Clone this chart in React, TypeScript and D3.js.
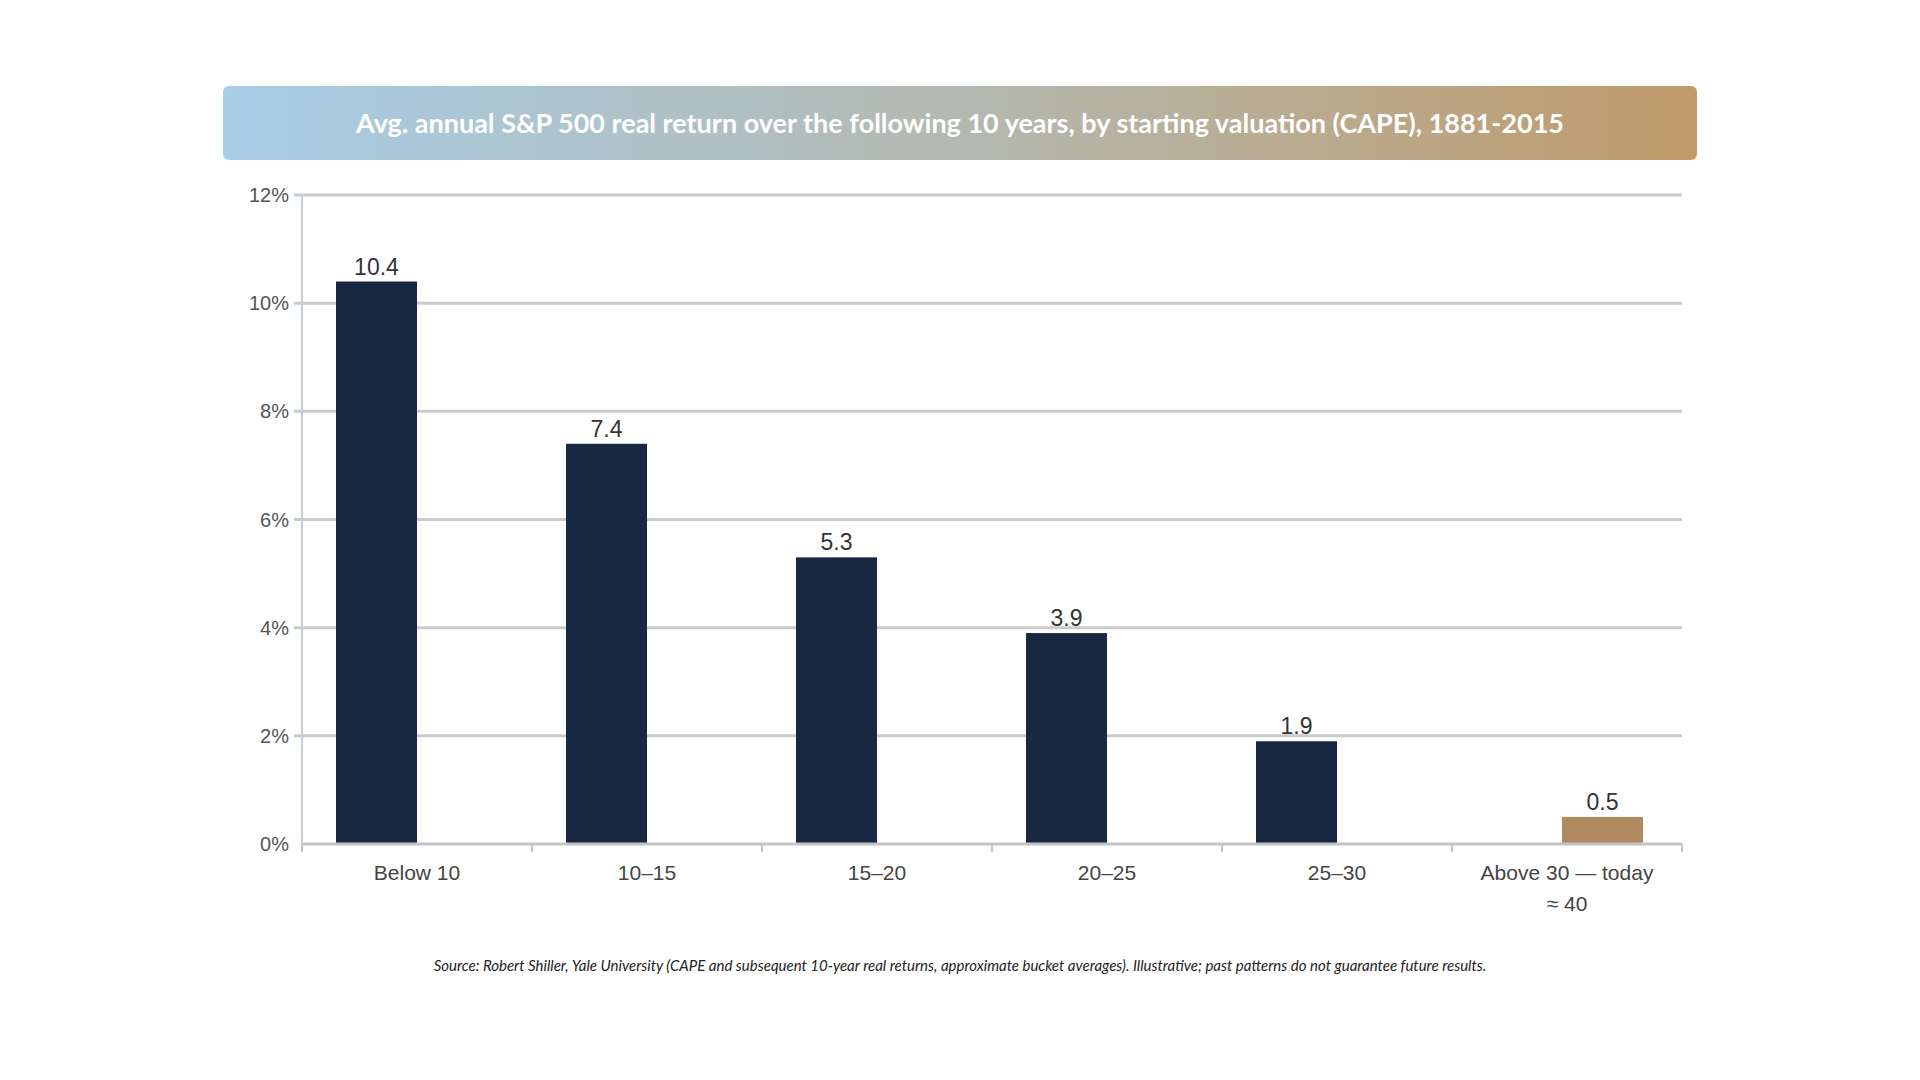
import * as d3 from "d3";

const categories = ["Below 10", "10–15", "15–20", "20–25", "25–30", "Above 30 — today\n≈ 40"];
const values = [10.4, 7.4, 5.3, 3.9, 1.9, 0.5];
const highlight = [false, false, false, false, false, true];
const yTicks = [0, 2, 4, 6, 8, 10, 12];

const W = 1920;
const H = 1080;
const left = 302;
const right = 1682;
const top = 195;
const bottom = 844;
const barW = 81;

export default function App() {
  const x = d3.scaleBand<string>().domain(categories).range([left, right]);
  const y = d3.scaleLinear().domain([0, 12]).range([bottom, top]);
  const bw = x.bandwidth();

  return (
    <svg width={W} height={H} style={{ display: "block", margin: -8 }}>
      <defs>
        <linearGradient id="banner" x1="0" x2="1" y1="0" y2="0">
          <stop offset="0%" stopColor="#a8cde7" />
          <stop offset="50%" stopColor="#b3b9b0" />
          <stop offset="100%" stopColor="#c09a6a" />
        </linearGradient>
      </defs>
      <rect x={0} y={0} width={W} height={H} fill="#fff" />
      <rect x={223} y={86} width={1474} height={74} rx={6} fill="url(#banner)" />
      <text x={960} y={133} textAnchor="middle" fill="#fff" fontFamily="Lato" fontWeight={700} fontSize={27}>
        Avg. annual S&amp;P 500 real return over the following 10 years, by starting valuation (CAPE), 1881-2015
      </text>

      {yTicks.map((t) => (
        <g key={t}>
          {t > 0 && <line x1={left - 8} x2={right} y1={y(t)} y2={y(t)} stroke="#cbcbcb" strokeWidth={3} />}
          <text x={289} y={y(t) + 7} textAnchor="end" fill="#555" fontFamily="Liberation Sans, Arial" fontSize={20}>
            {t}%
          </text>
        </g>
      ))}
      <line x1={left} x2={left} y1={top} y2={bottom + 8} stroke="#c8ccd4" strokeWidth={2} />

      {categories.map((c, i) => {
        const cx = (x(c) as number) + bw / 2;
        const bx = highlight[i] ? cx - 5 : cx - barW;
        const lines = c.split("\n");
        return (
          <g key={c}>
            <rect x={bx} y={y(values[i])} width={barW} height={bottom - y(values[i])} fill={highlight[i] ? "#b08a5e" : "#182742"} />
            <text x={bx + barW / 2} y={y(values[i]) - 7} textAnchor="middle" fill="#333" fontFamily="Liberation Sans, Arial" fontSize={23}>
              {values[i]}
            </text>
            {lines.map((l, j) => (
              <text key={j} x={cx} y={880 + j * 31} textAnchor="middle" fill="#444" fontFamily="Liberation Sans, Arial" fontSize={21}>
                {l}
              </text>
            ))}
          </g>
        );
      })}

      <line x1={left} x2={right} y1={bottom} y2={bottom} stroke="#c4c4c8" strokeWidth={3} />
      {categories.map((c) => (
        <line key={c} x1={x(c)} x2={x(c)} y1={bottom} y2={bottom + 8} stroke="#c4c4c8" strokeWidth={2} />
      ))}
      <line x1={right} x2={right} y1={bottom} y2={bottom + 8} stroke="#c4c4c8" strokeWidth={2} />

      <text x={960} y={971} textAnchor="middle" fill="#222" fontFamily="Lato" fontStyle="italic" fontSize={15}>
        Source: Robert Shiller, Yale University (CAPE and subsequent 10-year real returns, approximate bucket averages). Illustrative; past patterns do not guarantee future results.
      </text>
    </svg>
  );
}
